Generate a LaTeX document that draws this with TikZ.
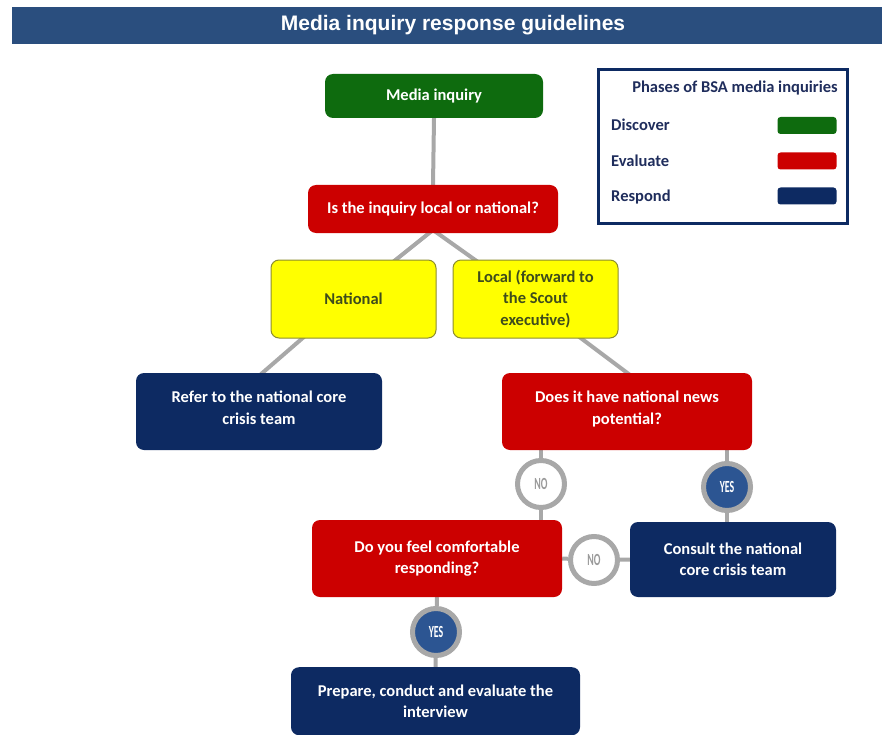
\documentclass[tikz,border=0pt]{standalone}
\usepackage{fontspec}
\setmainfont{Carlito}
\newfontfamily\titlefont{Liberation Sans}
\usetikzlibrary{backgrounds}
\definecolor{hdr}{HTML}{2A4E7E}
\definecolor{dgreen}{HTML}{0E6B0E}
\definecolor{dred}{HTML}{CC0000}
\definecolor{navy}{HTML}{0D2A62}
\definecolor{yel}{HTML}{FFFF00}
\definecolor{yelborder}{HTML}{8C8C2E}
\definecolor{olivetext}{HTML}{3E4C1C}
\definecolor{conn}{HTML}{A8A8A8}
\definecolor{legtext}{HTML}{1F2D5C}
\definecolor{yesblue}{HTML}{2C5592}
\definecolor{notext}{HTML}{9A9A9A}
\tikzset{
  x=1pt, y=-1pt,
  boxbase/.style={rounded corners=8pt, align=center, font=\bfseries\fontsize{16.5}{21.5}\selectfont, inner sep=0pt},
  greenbox/.style={boxbase, fill=dgreen, text=white},
  redbox/.style={boxbase, fill=dred, text=white},
  navybox/.style={boxbase, fill=navy, text=white},
  yellowbox/.style={boxbase, fill=yel, draw=yelborder, line width=1pt, text=olivetext},
  link/.style={draw=conn, line width=4pt},
  nocirc/.style={circle, minimum size=47pt, inner sep=0pt, fill=white, draw=conn, line width=5pt, text=notext, font=\bfseries\fontsize{17}{17}\selectfont},
  yescirc/.style={circle, minimum size=47pt, inner sep=0pt, fill=yesblue, draw=conn, line width=5pt, text=white, font=\bfseries\fontsize{17}{17}\selectfont},
  legendtext/.style={text=legtext, font=\bfseries\fontsize{16.5}{18}\selectfont, inner sep=0pt},
  swatch/.style={rounded corners=3pt, minimum width=59pt, minimum height=17pt, inner sep=0pt}
}
\newcommand{\cond}[1]{\scalebox{0.58}[1]{#1}}
\begin{document}
\begin{tikzpicture}
\useasboundingbox (0,0) rectangle (882,735);
% header
\node[fill=hdr, minimum width=870pt, minimum height=37pt, inner sep=0pt, anchor=north west] (hdr) at (12,7) {};
\node[text=white, font=\titlefont\bfseries\fontsize{21}{24}\selectfont] (title) at (453,25) {Media inquiry response guidelines};

% nodes
\node[greenbox, minimum width=218pt, minimum height=44pt] (media) at (434,96) {Media inquiry};
\node[redbox, minimum width=250pt, minimum height=48pt] (q1) at (433,209) {Is the inquiry local or national?};
\node[yellowbox, minimum width=165pt, minimum height=78pt] (nat) at (353.5,299) {National};
\node[yellowbox, minimum width=165pt, minimum height=78pt] (loc) at (535.5,299) {Local (forward to\\the Scout\\executive)};
\node[navybox, minimum width=246pt, minimum height=77pt] (refer) at (259,411.5) {Refer to the national core\\crisis team\\[-13.5pt]\mbox{}};
\node[redbox, minimum width=250pt, minimum height=77pt] (q2) at (627,411.5) {Does it have national news\\potential?\\[-13.5pt]\mbox{}};
\node[redbox, minimum width=250pt, minimum height=77pt] (q3) at (437,558.5) {Do you feel comfortable\\responding?};
\node[navybox, minimum width=206pt, minimum height=75pt] (consult) at (733,559.5) {Consult the national\\core crisis team};
\node[navybox, minimum width=289pt, minimum height=68pt, anchor=north] (prep) at (435.5,667) {Prepare, conduct and evaluate the\\interview};

% circles
\node[nocirc] (no1) at (541,484) {\cond{NO}};
\node[yescirc] (yes1) at (727,487) {\cond{YES}};
\node[nocirc] (no2) at (594,560) {\cond{NO}};
\node[yescirc] (yes2) at (436,632) {\cond{YES}};

% connectors
\begin{scope}[on background layer]
\coordinate (q1b) at (433,230);
\coordinate (natT) at (393,262);
\coordinate (locT) at (478,262);
\coordinate (natB) at (305,336);
\coordinate (referT) at (260,375);
\coordinate (locB) at (578,336);
\coordinate (q2T) at (630,375);
\coordinate (q2bl) at (541,445);
\coordinate (q3t) at (541,525);
\coordinate (q2br) at (727,445);
\coordinate (consT) at (727,527);
\draw[link] (media.south) -- (q1.north);
\draw[link] (q1b) -- (natT);
\draw[link] (q1b) -- (locT);
\draw[link] (natB) -- (referT);
\draw[link] (locB) -- (q2T);
\draw[link] (q2bl) -- (no1) -- (q3t);
\draw[link] (q2br) -- (yes1) -- (consT);
\draw[link] (q3.east) -- (no2) -- (consult.west);
\draw[link] (q3.south) -- (yes2) -- (prep.north);
\end{scope}

% legend
\node[draw=navy, line width=3pt, minimum width=249pt, minimum height=154pt, inner sep=0pt, anchor=north west] (legend) at (597,68) {};
\node[legendtext] (legtitle) at (735,88) {Phases of BSA media inquiries};
\node[legendtext, anchor=west] (ldisc) at (611,125) {Discover};
\node[legendtext, anchor=west] (leval) at (611,161) {Evaluate};
\node[legendtext, anchor=west] (lresp) at (611,197) {Respond};
\node[swatch, fill=dgreen] (sdisc) at (807,125.5) {};
\node[swatch, fill=dred] (seval) at (807,161) {};
\node[swatch, fill=navy] (sresp) at (807,196) {};
\end{tikzpicture}
\end{document}
